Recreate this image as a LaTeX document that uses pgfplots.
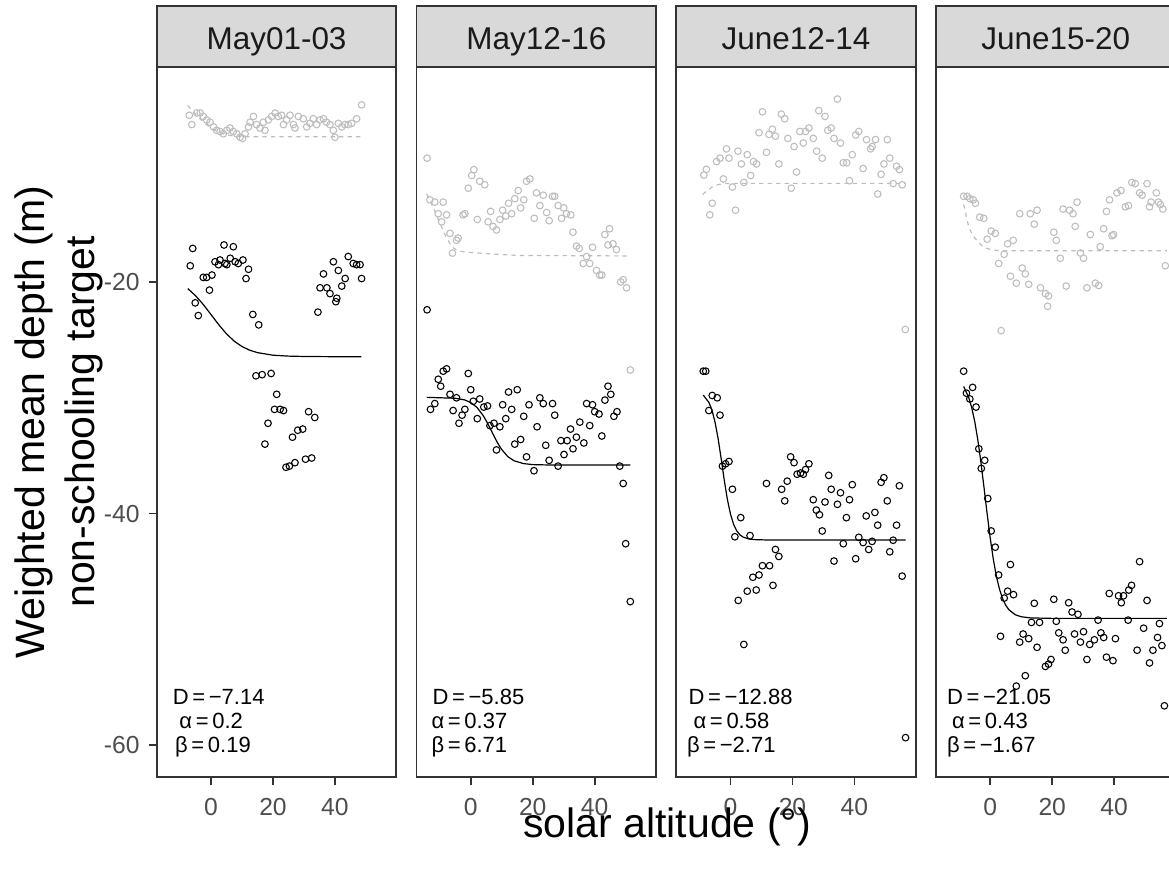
\documentclass[border=0pt]{standalone}
\usepackage{fontspec}
\setmainfont{Liberation Sans}
\usepackage{pgfplots}
\pgfplotsset{compat=1.18}

\definecolor{grey10}{HTML}{1A1A1A}
\definecolor{grey20}{HTML}{333333}
\definecolor{grey30}{HTML}{4D4D4D}
\definecolor{grey85}{HTML}{D9D9D9}
\definecolor{fadegrey}{HTML}{BDBDBD}

% one facet panel: 239.5 x 710 px at 0.75 pt per px
\pgfplotsset{
  facet/.style={
    anchor=south west, scale only axis,
    width=179.6pt, height=532.5pt,
    xmin=-17.5, xmax=59.8, ymin=-62.75, ymax=-1.43,
    axis line style={draw=grey20, line width=1.4pt},
    xtick={0,20,40}, xticklabels={0,20,40},
    ytick=\empty,
    xtick pos=bottom, ytick pos=left,
    tick align=outside, major tick length=6pt,
    tick style={grey20, line width=1.3pt},
    xticklabel style={font=\fontsize{18.5}{22}\selectfont, text=grey30, anchor=north, inner sep=0pt, yshift=-10pt},
    yticklabel style={font=\fontsize{18.5}{22}\selectfont, text=grey30, anchor=east, inner sep=0pt, xshift=-6.75pt},
    clip mode=individual,
  },
  target/.style={only marks, mark=o, mark size=2.5pt, black, mark options={line width=0.8pt}},
  schooling/.style={only marks, mark=o, mark size=2.5pt, fadegrey, mark options={line width=0.8pt}},
  fit/.style={black, line width=0.9pt, no marks},
  fitgrey/.style={fadegrey, line width=0.9pt, no marks, dash pattern=on 3.2pt off 3.2pt},
}
\tikzset{coef/.style={font=\fontsize{16.5}{18}\selectfont, anchor=base west, inner sep=0pt}}

\begin{document}
\begin{tikzpicture}

% ---------------- May01-03 ----------------
\begin{axis}[facet, at={(117.6pt,69pt)}, ytick={-60,-40,-20}, yticklabels={-60,-40,-20}]
\addplot[schooling] table {
x y
-7.0 -5.6
-6.2 -6.4
-4.6 -5.4
-3.5 -5.4
-2.5 -5.7
-1.4 -6.0
-0.3 -6.2
0.8 -6.6
1.8 -6.9
2.9 -7.0
4.0 -7.2
5.1 -6.9
6.1 -6.7
7.2 -7.0
8.3 -7.2
9.4 -7.5
10.2 -7.6
11.0 -7.2
12.1 -6.6
12.6 -6.2
13.7 -5.7
14.7 -6.4
15.8 -6.7
16.9 -6.2
17.4 -6.9
18.5 -6.0
19.6 -5.7
20.7 -5.4
21.7 -5.7
22.8 -5.6
23.4 -6.4
24.4 -6.0
25.5 -5.6
26.6 -6.4
27.1 -6.7
28.2 -5.7
29.8 -5.9
30.9 -6.6
31.9 -6.3
33.0 -5.9
34.1 -6.4
35.2 -6.0
36.3 -5.9
37.3 -6.2
38.4 -6.4
39.5 -6.9
40.0 -7.5
41.1 -6.3
42.2 -6.6
43.2 -6.4
44.3 -6.4
45.4 -6.3
47.0 -5.9
48.6 -4.7
};
\addplot[fitgrey] coordinates {
(-7.5,-4.75) (-6,-5.2) (-4,-5.8) (-2,-6.3) (0,-6.7) (2,-7.0) (4,-7.2)
(6,-7.33) (8,-7.4) (12,-7.45) (48.5,-7.45)
};
\addplot[target] table {
x y
-5.9 -17.1
4.2 -16.8
7.2 -16.95
-6.7 -18.6
1.3 -18.25
2.9 -18.1
4.5 -18.4
6.2 -17.95
7.8 -18.25
8.8 -18.4
10.3 -18.1
2.4 -18.5
5.1 -18.5
12.1 -18.9
11.3 -19.7
-2.5 -19.6
-1.4 -19.6
0.3 -19.4
-0.5 -20.7
-5.1 -21.8
-4.1 -22.9
13.5 -22.8
15.4 -23.7
39.5 -18.25
36.3 -19.3
44.3 -17.8
45.9 -18.4
47.0 -18.5
48.1 -18.5
41.1 -19.0
43.3 -19.7
48.6 -19.7
42.2 -20.35
35.2 -20.5
37.4 -20.5
38.4 -21.0
40.6 -21.4
34.5 -22.6
40.3 -21.7
14.5 -28.1
16.5 -28.0
19.4 -27.9
21.2 -29.7
20.5 -31.0
22.3 -31.0
23.4 -31.1
18.4 -32.2
31.5 -31.2
33.5 -31.7
26.3 -33.4
28.0 -32.8
29.6 -32.7
17.4 -34.0
24.2 -36.0
25.3 -35.9
27.1 -35.6
30.5 -35.3
32.5 -35.2
};
\addplot[fit] coordinates {
(-7.5,-20.57) (-5,-21.18) (-2.5,-21.94) (0,-22.81) (2.5,-23.69) (5,-24.48)
(7.5,-25.11) (10,-25.57) (12.5,-25.89) (15,-26.10) (20,-26.32) (25,-26.40)
(30,-26.43) (40,-26.45) (48.5,-26.45)
};
\node[coef] at (axis description cs:0.0657,0.1028) {D\,=\,−7.14};
\node[coef] at (axis description cs:0.0933,0.0686) {α\,=\,0.2};
\node[coef] at (axis description cs:0.0753,0.0342) {β\,=\,0.19};
\end{axis}

% ---------------- May12-16 ----------------
\begin{axis}[facet, at={(312.41pt,69pt)}]
\addplot[schooling] table {
x y
-14.1 -9.3
-13.2 -12.9
-11.6 -13.1
-8.9 -13.1
-10.5 -14.1
-7.8 -14.2
-9.4 -14.8
-6.7 -15.8
-4.1 -16.2
-4.6 -16.4
-5.9 -17.5
1.0 -10.3
0.3 -10.8
-0.8 -11.9
2.9 -11.3
4.5 -11.6
-2.5 -14.2
-1.9 -14.1
2.1 -14.6
6.4 -13.9
5.6 -14.8
7.2 -15.2
8.3 -15.5
10.3 -13.8
9.4 -14.6
11.3 -14.3
12.2 -13.2
13.2 -14.1
14.2 -12.8
15.3 -12.1
16.1 -13.6
17.1 -12.9
18.0 -11.3
19.1 -11.1
20.5 -14.5
21.2 -12.3
22.3 -13.4
23.4 -12.5
24.5 -14.0
25.3 -14.7
26.4 -12.6
27.1 -12.6
28.2 -13.4
29.3 -14.5
30.0 -13.6
30.9 -14.1
32.3 -14.2
33.0 -15.7
34.1 -16.9
35.0 -17.1
37.4 -17.8
36.3 -18.4
38.4 -18.4
39.3 -17.0
40.6 -19.0
41.6 -19.4
42.3 -19.4
43.3 -15.9
44.8 -15.4
44.3 -16.8
45.9 -16.7
47.0 -17.2
48.4 -20.0
49.2 -19.8
50.3 -20.5
51.5 -27.6
};
\addplot[fitgrey] coordinates {
(-14.2,-12.4) (-12,-13.6) (-10,-14.9) (-8,-16.1) (-6,-17.0) (-4,-17.3)
(-2,-17.4) (0,-17.45) (8,-17.6) (15,-17.7) (51.5,-17.75)
};
\addplot[target] table {
x y
-14.1 -22.4
-7.8 -27.5
-8.9 -27.7
-10.5 -28.4
-9.7 -29.0
-0.8 -27.9
0.0 -29.3
-6.7 -29.7
-4.6 -30.0
-11.6 -30.5
-13.0 -31.0
-5.7 -31.1
-1.9 -31.0
-2.8 -31.5
-3.8 -32.2
2.9 -30.1
0.8 -30.3
4.2 -30.8
5.4 -30.7
2.1 -31.8
6.2 -32.4
7.5 -32.2
9.4 -32.5
8.3 -34.5
12.2 -29.5
15.0 -29.3
10.3 -30.6
13.2 -31.0
11.3 -31.8
17.1 -31.6
18.8 -30.6
22.3 -30.0
23.4 -30.5
26.4 -30.5
27.1 -31.5
21.4 -32.5
16.1 -33.6
14.2 -34.0
24.2 -34.1
18.0 -35.1
20.4 -36.3
25.3 -35.4
28.2 -35.9
29.1 -33.7
31.1 -33.7
30.1 -34.9
33.0 -34.4
32.2 -32.7
34.1 -33.4
36.5 -33.9
35.2 -32.1
37.4 -30.5
39.3 -30.6
40.0 -31.2
41.4 -31.4
38.4 -32.4
42.3 -33.3
43.3 -30.2
44.3 -29.0
45.2 -29.7
46.2 -31.6
47.2 -31.2
48.1 -35.9
49.2 -37.4
50.0 -42.6
51.5 -47.6
};
\addplot[fit] coordinates {
(-14.2,-29.96) (-5,-30.04) (-2,-30.18) (0,-30.41) (2,-30.83) (4,-31.53)
(5,-31.99) (6,-32.50) (7,-33.04) (8,-33.57) (9,-34.05) (10,-34.47)
(12,-35.09) (14,-35.44) (17,-35.68) (20,-35.77) (25,-35.80) (51.5,-35.81)
};
\node[coef] at (axis description cs:0.0657,0.1028) {D\,=\,−5.85};
\node[coef] at (axis description cs:0.0615,0.0686) {α\,=\,0.37};
\node[coef] at (axis description cs:0.0615,0.0342) {β\,=\,6.71};
\end{axis}

% ---------------- June12-14 ----------------
\begin{axis}[facet, at={(507.23pt,69pt)}]
\addplot[schooling] table {
x y
-8.6 -10.76
-7.8 -10.27
-4.5 -9.6
-3.4 -9.3
-1.3 -8.5
-0.5 -9.3
-2.3 -11.1
0.6 -11.8
-5.9 -13.2
-6.7 -14.2
1.6 -13.8
2.4 -8.7
3.5 -9.8
5.4 -9.0
4.3 -11.4
6.5 -10.8
7.4 -9.6
8.4 -9.8
10.3 -5.3
9.2 -7.1
11.6 -8.8
12.4 -7.25
13.5 -6.8
14.5 -7.4
15.6 -9.8
16.4 -5.5
17.5 -5.9
18.5 -7.6
20.5 -8.3
21.3 -10.5
22.4 -7.0
23.5 -8.0
24.2 -7.0
25.3 -6.7
26.7 -7.6
27.8 -8.7
29.6 -9.3
28.5 -5.2
30.5 -5.7
31.4 -6.9
32.5 -6.7
33.4 -7.6
35.5 -8.0
34.5 -4.2
36.4 -9.7
37.5 -9.7
39.3 -9.0
38.4 -11.25
40.4 -7.3
41.4 -7.0
42.8 -10.2
43.9 -7.7
45.2 -8.5
45.7 -8.3
46.8 -7.7
50.6 -7.7
47.5 -12.4
48.6 -10.7
49.5 -9.8
51.4 -9.3
52.5 -11.5
53.6 -10.0
54.5 -10.3
55.4 -11.6
19.6 -11.9
56.4 -24.1
};
\addplot[fitgrey] coordinates {
(-9,-12.45) (-8,-12.2) (-7,-12.0) (-6,-11.8) (-5,-11.67) (-4,-11.58)
(-2,-11.5) (0,-11.48) (56.5,-11.48)
};
\addplot[target] table {
x y
-8.8 -27.7
-8.0 -27.7
-5.9 -29.8
-4.3 -30.0
-7.0 -31.1
-3.4 -31.5
-2.6 -35.9
-1.6 -35.7
-0.5 -35.5
0.6 -37.9
3.3 -40.35
1.4 -42.0
6.3 -41.9
11.6 -37.4
14.5 -43.1
15.6 -43.7
10.3 -44.5
12.6 -44.5
7.2 -45.5
9.2 -45.3
5.4 -46.7
8.3 -46.6
13.7 -46.2
2.5 -47.5
4.3 -51.3
16.5 -37.9
17.5 -38.9
18.3 -37.2
19.4 -35.1
20.5 -35.6
21.5 -36.6
22.6 -36.5
23.5 -36.6
24.2 -36.2
25.3 -35.7
26.7 -38.8
27.7 -39.7
28.7 -40.1
29.6 -41.5
30.5 -39.0
31.7 -36.7
32.5 -37.9
34.5 -39.2
35.5 -38.2
36.4 -42.6
33.4 -44.1
37.4 -40.35
38.4 -38.8
39.3 -37.5
40.4 -43.9
41.4 -42.05
42.8 -42.5
43.8 -40.2
44.6 -43.1
45.7 -42.4
46.6 -39.9
47.5 -41.0
48.6 -37.3
49.5 -36.9
50.6 -38.9
51.4 -43.3
52.5 -42.3
53.6 -41.0
54.5 -37.6
55.4 -45.4
56.5 -59.35
};
\addplot[fit] coordinates {
(-8.8,-29.77) (-7,-30.39) (-6,-31.06) (-5,-32.10) (-4,-33.54) (-3,-35.30)
(-2,-37.15) (-1,-38.80) (0,-40.06) (1,-40.94) (2,-41.49) (3,-41.83)
(4,-42.02) (6,-42.20) (8,-42.25) (12,-42.28) (56.5,-42.28)
};
\node[coef] at (axis description cs:0.0502,0.1028) {D\,=\,−12.88};
\node[coef] at (axis description cs:0.0711,0.0686) {α\,=\,0.58};
\node[coef] at (axis description cs:0.0435,0.0342) {β\,=\,−2.71};
\end{axis}

% ---------------- June15-20 ----------------
\begin{axis}[facet, at={(702.04pt,69pt)}]
\addplot[schooling] table {
x y
-8.6 -12.6
-7.5 -12.6
-6.6 -12.8
-5.5 -12.9
-4.8 -13.2
-3.4 -14.4
-2.1 -14.5
0.3 -15.6
1.6 -15.8
-1.0 -16.3
5.6 -16.7
7.4 -16.4
4.5 -17.6
2.7 -18.4
9.5 -14.1
12.9 -14.1
15.1 -13.8
14.2 -15.0
10.3 -18.8
11.3 -19.3
6.5 -19.5
8.4 -20.1
12.4 -20.2
16.2 -20.5
17.8 -21.0
18.8 -21.2
20.5 -15.7
21.3 -16.4
22.6 -17.95
23.5 -13.7
25.6 -13.8
26.7 -14.1
28.0 -13.1
27.4 -15.2
24.5 -20.35
29.1 -17.5
30.1 -17.95
32.3 -15.9
35.5 -16.95
31.2 -20.5
33.9 -20.1
35.0 -20.3
36.6 -15.4
39.3 -16.0
39.8 -15.9
37.5 -13.9
38.5 -12.9
40.9 -12.3
42.2 -12.1
43.6 -13.5
44.6 -13.4
45.7 -11.4
46.8 -11.5
48.2 -12.3
49.0 -12.5
50.6 -11.5
51.4 -13.5
51.9 -13.1
53.6 -12.3
54.3 -13.1
54.9 -13.3
55.7 -13.7
56.5 -18.6
3.5 -24.2
18.5 -22.1
};
\addplot[fitgrey] coordinates {
(-8.6,-13.3) (-8,-14.0) (-7,-15.2) (-6,-15.8) (-5,-16.2) (-4,-16.5)
(-3,-16.8) (-2,-17.0) (-1,-17.1) (1,-17.25) (4,-17.3) (57,-17.3)
};
\addplot[target] table {
x y
-8.6 -27.7
-5.7 -29.1
-7.7 -29.6
-6.6 -30.1
-4.6 -30.8
-3.7 -34.4
-1.8 -35.4
-2.9 -36.1
-0.8 -38.7
0.3 -41.5
1.6 -42.9
6.5 -44.4
2.7 -45.3
48.2 -44.15
4.5 -47.3
5.6 -46.7
7.5 -47.0
14.2 -47.75
20.5 -47.4
25.3 -47.7
26.4 -48.5
28.3 -48.7
38.4 -46.9
41.4 -47.1
43.0 -47.1
42.3 -47.7
44.7 -46.6
45.6 -46.2
50.6 -47.5
13.3 -49.4
15.9 -49.4
21.3 -49.3
34.8 -49.2
44.5 -49.2
49.5 -49.9
54.6 -49.5
3.3 -50.6
10.6 -50.4
9.5 -51.1
12.4 -50.8
22.1 -50.3
23.5 -50.9
24.2 -51.8
15.1 -51.55
27.2 -50.4
30.1 -50.2
29.1 -51.1
32.1 -51.3
33.6 -50.9
35.7 -50.3
36.6 -50.7
40.4 -50.8
31.2 -52.6
37.5 -52.4
39.6 -52.7
17.8 -53.2
18.8 -53.0
19.6 -52.6
11.3 -54.0
8.4 -54.9
47.4 -51.8
52.5 -51.8
51.4 -52.9
55.4 -51.4
54.0 -50.7
56.2 -56.6
};
\addplot[fit] coordinates {
(-8.6,-29.02) (-7,-29.94) (-6,-30.84) (-5,-32.07) (-4,-33.67) (-3,-35.61)
(-2,-37.80) (-1,-40.05) (0,-42.15) (1,-43.98) (2,-45.45) (3,-46.56)
(4,-47.36) (5,-47.92) (6,-48.30) (8,-48.73) (10,-48.91) (13,-49.01)
(20,-49.05) (57,-49.05)
};
\node[coef] at (axis description cs:0.0448,0.1028) {D\,=\,−21.05};
\node[coef] at (axis description cs:0.0657,0.0686) {α\,=\,0.43};
\node[coef] at (axis description cs:0.0448,0.0342) {β\,=\,−1.67};
\end{axis}

% strips, titles (pixel grid, y measured from the bottom)
\begin{scope}[x=0.75pt, y=0.75pt]
\foreach \L/\lab in {156.8/May01-03, 416.55/May12-16, 676.3/June12-14, 936.05/June15-20}{
  \draw[fill=grey85, draw=grey20, line width=1.4pt] (\L,802) rectangle ++(239.5,61);
  \node[anchor=base, inner sep=0pt, text=grey10, font=\fontsize{23.6}{26}\selectfont]
    at (\L+119.75,819.5) {\lab};
}
\node[anchor=base, inner sep=0pt, font=\fontsize{30.75}{34}\selectfont] at (667,32) {solar altitude (°)};
\node[anchor=base, inner sep=0pt, rotate=90, font=\fontsize{30.75}{34}\selectfont] at (44,447) {Weighted mean depth (m)};
\node[anchor=base, inner sep=0pt, rotate=90, font=\fontsize{30.75}{34}\selectfont] at (94,447) {non-schooling target};
\end{scope}

\pgfresetboundingbox
\path (0pt,0pt) rectangle (876.75pt,651.75pt);
\end{tikzpicture}
\end{document}
